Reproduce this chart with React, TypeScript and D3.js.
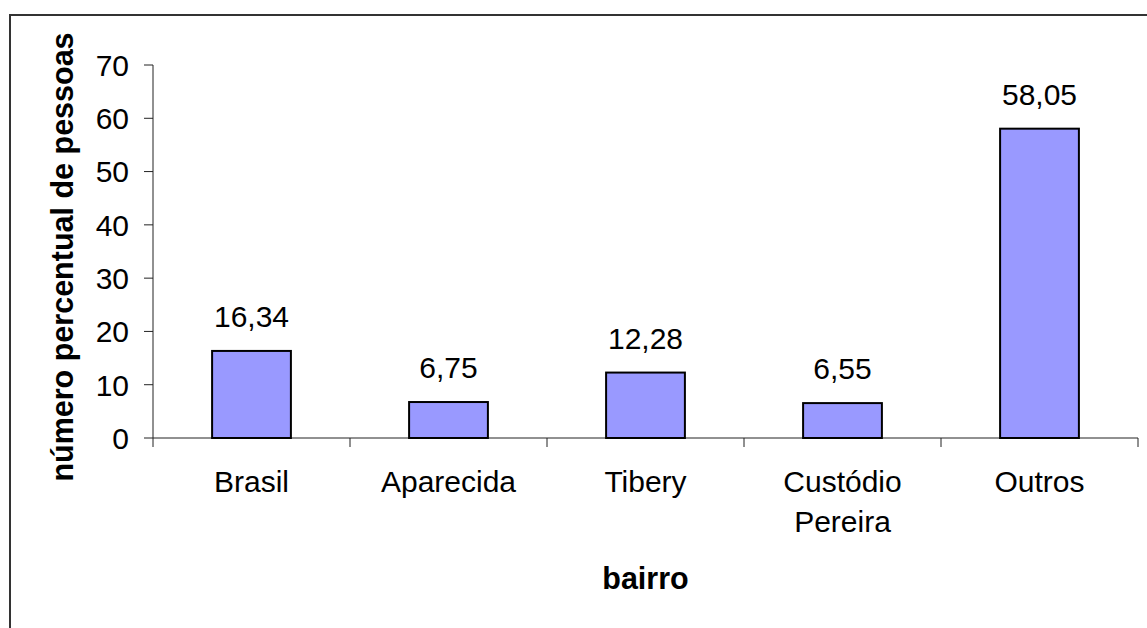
import React, { useEffect, useRef } from "react";
import * as d3 from "d3";

const categories: string[][] = [["Brasil"], ["Aparecida"], ["Tibery"], ["Custódio", "Pereira"], ["Outros"]];
const values: number[] = [16.34, 6.75, 12.28, 6.55, 58.05];
const valueLabels: string[] = ["16,34", "6,75", "12,28", "6,55", "58,05"];
const yTicks: number[] = [0, 10, 20, 30, 40, 50, 60, 70];
const xTitle = "bairro";
const yTitle = "número percentual de pessoas";

export default function App() {
  const ref = useRef<SVGSVGElement>(null);
  useEffect(() => {
    document.body.style.margin = "0";
    const svg = d3.select(ref.current);
    svg.selectAll("*").remove();
    const W = 1147, H = 628;
    const x0 = 153, x1 = 1138, y0 = 438, y1 = 65;
    const font = "Arial, 'Liberation Sans', sans-serif";
    const fs = 30;
    const fsb = 30.5;

    svg.append("rect").attr("x", 0).attr("y", 0).attr("width", W).attr("height", H).attr("fill", "#fff");
    svg.append("rect").attr("x", 10).attr("y", 15).attr("width", 1150).attr("height", 700)
      .attr("fill", "none").attr("stroke", "#333").attr("stroke-width", 2);

    const idx = categories.map((_, i) => String(i));
    const x = d3.scaleBand<string>().domain(idx).range([x0, x1]).paddingInner(0).paddingOuter(0);
    const y = d3.scaleLinear().domain([0, 70]).range([y0, y1]);
    const bw = x.bandwidth() * 0.4;

    // y axis
    svg.append("line").attr("x1", x0).attr("x2", x0).attr("y1", y(70)).attr("y2", y0).attr("stroke", "#222").attr("stroke-width", 1);
    yTicks.forEach((t) => {
      svg.append("line").attr("x1", x0 - 9).attr("x2", x0).attr("y1", y(t)).attr("y2", y(t)).attr("stroke", "#222").attr("stroke-width", 1);
      svg.append("text").attr("x", 129).attr("y", y(t)).attr("dy", "0.36em").attr("text-anchor", "end")
        .attr("font-family", font).attr("font-size", fs).attr("fill", "#000").text(String(t));
    });

    // x axis
    svg.append("line").attr("x1", x0).attr("x2", x1).attr("y1", y0).attr("y2", y0).attr("stroke", "#222").attr("stroke-width", 1);
    for (let i = 0; i <= categories.length; i++) {
      const xx = x0 + i * x.step();
      svg.append("line").attr("x1", xx).attr("x2", xx).attr("y1", y0).attr("y2", y0 + 9).attr("stroke", "#222").attr("stroke-width", 1);
    }

    // bars
    values.forEach((v, i) => {
      const cx = (x(String(i)) as number) + x.bandwidth() / 2;
      svg.append("rect").attr("x", cx - bw / 2).attr("y", y(v)).attr("width", bw).attr("height", y0 - y(v))
        .attr("fill", "#9999FF").attr("stroke", "#000").attr("stroke-width", 2);
      svg.append("text").attr("x", cx).attr("y", y(v) - 24).attr("text-anchor", "middle")
        .attr("font-family", font).attr("font-size", fs).attr("fill", "#000").text(valueLabels[i]);
      categories[i].forEach((line, j) => {
        svg.append("text").attr("x", cx).attr("y", 492 + j * 40).attr("text-anchor", "middle")
          .attr("font-family", font).attr("font-size", fs).attr("fill", "#000").text(line);
      });
    });

    svg.append("text").attr("x", (x0 + x1) / 2).attr("y", 589).attr("text-anchor", "middle")
      .attr("font-family", font).attr("font-size", fsb).attr("font-weight", "bold").attr("fill", "#000").text(xTitle);

    svg.append("text").attr("transform", `translate(73,257) rotate(-90)`).attr("text-anchor", "middle")
      .attr("font-family", font).attr("font-size", fsb).attr("font-weight", "bold").attr("fill", "#000").text(yTitle);
  }, []);
  return <svg ref={ref} width={1147} height={628} style={{ display: "block" }} />;
}
